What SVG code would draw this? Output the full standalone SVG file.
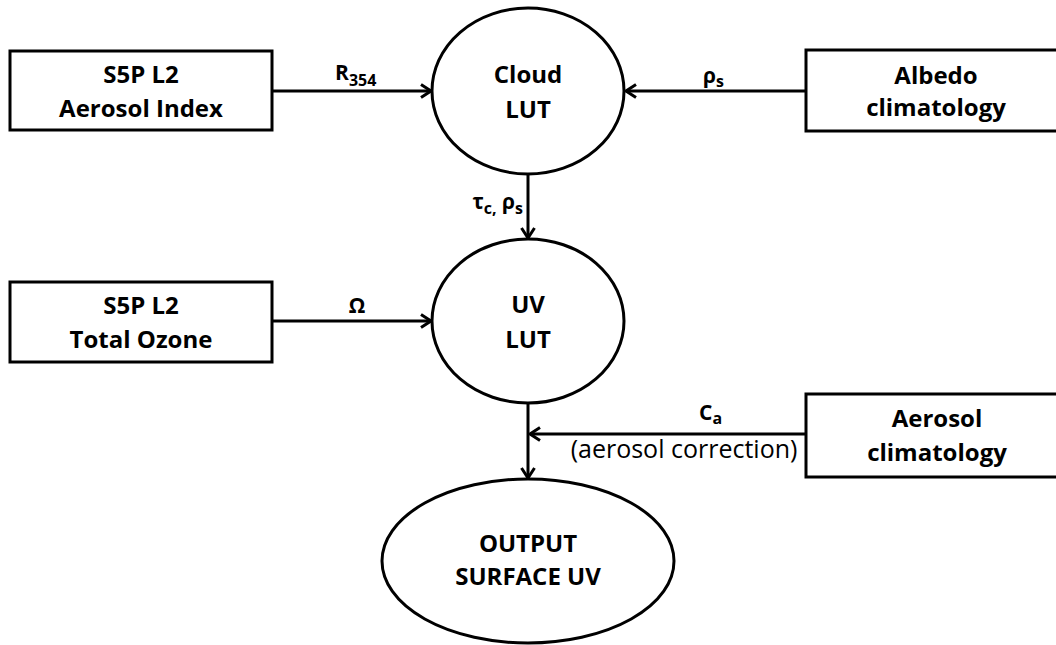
<svg xmlns="http://www.w3.org/2000/svg" width="1056" height="645" viewBox="0 0 1056 645">
<style>
.shape{fill:#fff;stroke:#000;stroke-width:3}
.conn{fill:none;stroke:#000;stroke-width:3}
.t{font-family:"Open Sans","Liberation Sans",sans-serif;font-weight:bold;font-size:24px;fill:#000;text-anchor:middle}
.lbl{font-family:"Open Sans","Liberation Sans",sans-serif;font-weight:bold;font-size:21px;fill:#000}
.sub{font-size:16px}
.reg{font-family:"Open Sans","Liberation Sans",sans-serif;font-weight:normal;font-size:25px;fill:#000}
</style>
<defs>
<marker id="arr" viewBox="0 0 14 16" refX="12" refY="8" markerWidth="14" markerHeight="16" orient="auto" markerUnits="userSpaceOnUse">
<path d="M2,1.5 L12,8 L2,14.5" fill="none" stroke="#000" stroke-width="3"/>
</marker>
</defs>
<rect width="1056" height="645" fill="#fff"/>
<g id="connectors">
<line class="conn" x1="272" y1="91" x2="431" y2="91" marker-end="url(#arr)"/>
<line class="conn" x1="806" y1="91" x2="626" y2="91" marker-end="url(#arr)"/>
<line class="conn" x1="528" y1="175" x2="528" y2="238" marker-end="url(#arr)"/>
<line class="conn" x1="272" y1="321" x2="431" y2="321" marker-end="url(#arr)"/>
<line class="conn" x1="528" y1="404" x2="528" y2="478" marker-end="url(#arr)"/>
<line class="conn" x1="806" y1="434" x2="530" y2="434" marker-end="url(#arr)"/>
<text class="lbl" x="335" y="80">R<tspan class="sub" dy="6">354</tspan></text>
<text class="lbl" x="703" y="83">ρ<tspan class="sub" dy="4">s</tspan></text>
<text class="lbl" x="523" y="209" text-anchor="end">τ<tspan class="sub" dy="5">c,</tspan><tspan dy="-5"> ρ</tspan><tspan class="sub" dy="5">s</tspan></text>
<text class="lbl" x="357" y="313" text-anchor="middle" font-size="22">Ω</text>
<text class="lbl" x="699" y="420" font-size="22">C<tspan class="sub" dy="4">a</tspan></text>
<text class="reg" x="684" y="458" text-anchor="middle">(aerosol correction)</text>
</g>
<g id="aerosol-index">
<rect class="shape" x="10" y="51" width="262" height="79"/>
<text class="t" x="141" y="83">S5P L2</text>
<text class="t" x="141" y="117">Aerosol Index</text>
</g>
<g id="cloud-lut">
<ellipse class="shape" cx="528" cy="91" rx="96" ry="83"/>
<text class="t" x="528" y="83">Cloud</text>
<text class="t" x="528" y="118">LUT</text>
</g>
<g id="albedo">
<rect class="shape" x="806" y="50" width="262" height="81"/>
<text class="t" x="936" y="84">Albedo</text>
<text class="t" x="936" y="116">climatology</text>
</g>
<g id="total-ozone">
<rect class="shape" x="10" y="282" width="262" height="80"/>
<text class="t" x="141" y="314">S5P L2</text>
<text class="t" x="141" y="348">Total Ozone</text>
</g>
<g id="uv-lut">
<ellipse class="shape" cx="528" cy="321" rx="96" ry="82"/>
<text class="t" x="528" y="313">UV</text>
<text class="t" x="528" y="348">LUT</text>
</g>
<g id="aerosol-climatology">
<rect class="shape" x="806" y="394" width="262" height="83"/>
<text class="t" x="937" y="427">Aerosol</text>
<text class="t" x="937" y="461">climatology</text>
</g>
<g id="output">
<ellipse class="shape" cx="528" cy="561" rx="146" ry="82"/>
<text class="t" x="528" y="552">OUTPUT</text>
<text class="t" x="528" y="585">SURFACE UV</text>
</g>
</svg>
